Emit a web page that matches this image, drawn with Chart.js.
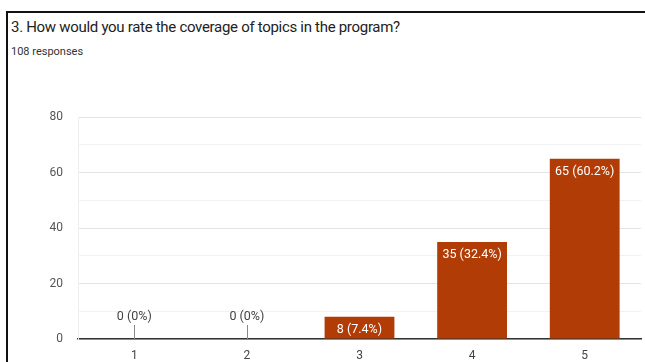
<!DOCTYPE html>
<html>
<head>
<meta charset="utf-8">
<script src="https://cdn.jsdelivr.net/npm/chart.js@4"></script>
<style>
  body { margin: 0; width: 645px; height: 362px; background: #fff; overflow: hidden; font-family: Roboto, Arial, sans-serif; }
  #frame { position: absolute; left: 6px; top: 11px; width: 645px; height: 360px; border-left: 2px solid #111; border-top: 2px solid #111; }
  #title { position: absolute; left: 11px; top: 18px; font-size: 15px; letter-spacing: -0.3px; color: #222; white-space: nowrap; }
  #sub { position: absolute; left: 11px; top: 45px; font-size: 11px; color: #333; }
  #wrap { position: absolute; left: 8px; top: 95px; width: 637px; height: 267px; }
</style>
</head>
<body>
<div id="frame"></div>
<div id="title">3. How would you rate the coverage of topics in the program?</div>
<div id="sub">108 responses</div>
<div id="wrap"><canvas id="chart"></canvas></div>
<script>
// Data
const ratings = ['1', '2', '3', '4', '5'];
const counts = [0, 0, 8, 35, 65];
const percents = ['0%', '0%', '7.4%', '32.4%', '60.2%'];
const yTicks = [0, 20, 40, 60, 80];

const BAR_COLOR = '#b13c06';

// labels above / inside bars
const barLabels = {
    id: 'barLabels',
    afterDatasetsDraw(chart) {
        const ctx = chart.ctx;
        const meta = chart.getDatasetMeta(0);
        ctx.save();
        ctx.font = '12.5px Roboto, Arial, sans-serif';
        ctx.textAlign = 'center';
        ctx.textBaseline = 'middle';
        meta.data.forEach((bar, i) => {
            const text = `${counts[i]} (${percents[i]})`;
            if (counts[i] === 0) {
                ctx.strokeStyle = '#888';
                ctx.lineWidth = 1;
                ctx.beginPath();
                ctx.moveTo(Math.round(bar.x) + 0.5, bar.base);
                ctx.lineTo(Math.round(bar.x) + 0.5, bar.base - 14);
                ctx.stroke();
                ctx.fillStyle = '#444';
                ctx.fillText(text, bar.x, bar.base - 22);
            } else {
                ctx.fillStyle = '#fff';
                ctx.fillText(text, bar.x, bar.y + 13);
            }
        });
        ctx.restore();
    }
};

new Chart(document.getElementById('chart'), {
    type: 'bar',
    data: {
        labels: ratings,
        datasets: [{ data: counts, backgroundColor: BAR_COLOR, barPercentage: 0.62, categoryPercentage: 1 }]
    },
    options: {
        responsive: true,
        maintainAspectRatio: false,
        animation: false,
        layout: { padding: { top: 12, right: 4 } },
        plugins: { legend: { display: false }, tooltip: { enabled: false } },
        scales: {
            x: {
                grid: { display: false },
                border: { color: '#333', width: 1.5 },
                ticks: { color: '#444', font: { size: 12, family: 'Roboto' }, padding: 2 },
                afterFit: s => { s.height = 23; }
            },
            y: {
                min: 0,
                max: 80,
                ticks: {
                    stepSize: 10,
                    color: '#555',
                    font: { size: 12, family: 'Roboto' },
                    padding: 15,
                    callback: v => yTicks.includes(v) ? v : ''
                },
                grid: {
                    drawTicks: false,
                    color: c => c.tick && yTicks.includes(c.tick.value) ? '#e4e4e4' : '#f2f2f2'
                },
                border: { color: '#eeeeee' },
                afterFit: s => { s.width = 70; }
            }
        }
    },
    plugins: [barLabels]
});
</script>
</body>
</html>
